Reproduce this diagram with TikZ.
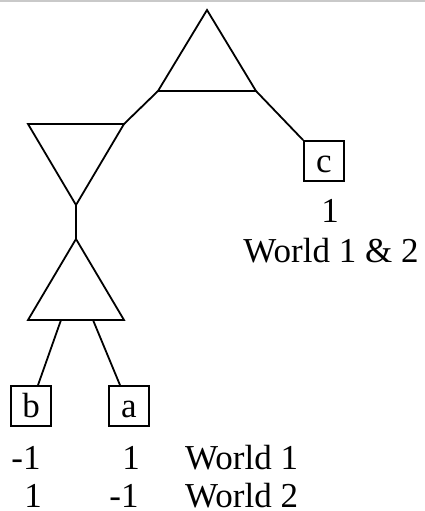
\documentclass[tikz,border=0pt]{standalone}
\usepackage{fontspec}
\setmainfont{Liberation Serif}
\usetikzlibrary{calc}
\begin{document}
\begin{tikzpicture}[x=1pt,y=-1pt,
  every node/.style={font=\fontsize{35}{40}\selectfont},
  edge/.style={line width=1.8pt,line join=miter},
  leafbox/.style={draw,line width=1.8pt,minimum width=40pt,minimum height=40pt,inner sep=0pt,text height=31pt,text depth=9pt},
  lbl/.style={inner sep=0pt}]
\useasboundingbox (0,0) rectangle (425,511);
\fill[black!21] (0,0) rectangle (425,2);
% top triangle
\coordinate (t1) at (207,10);
\coordinate (t1l) at (158,91);
\coordinate (t1r) at (256,91);
\draw[edge] (t1) -- (t1l) -- (t1r) -- cycle;
% inverted triangle
\coordinate (t2l) at (28,124);
\coordinate (t2r) at (124,124);
\coordinate (t2b) at (76,205);
\draw[edge] (t2l) -- (t2r) -- (t2b) -- cycle;
% lower triangle
\coordinate (t3) at (76,239);
\coordinate (t3l) at (28,320);
\coordinate (t3r) at (124,320);
\draw[edge] (t3) -- (t3l) -- (t3r) -- cycle;
% leaves
\node[leafbox] (c) at (324,161) {c};
\node[leafbox] (b) at (31,406) {b};
\node[leafbox] (a) at (129,406) {a};
% connectors
\coordinate (t3bl) at (61,320);
\coordinate (t3br) at (93,320);
\coordinate (bend) at ($(b.north)+(7,0)$);
\coordinate (aend) at ($(a.north)+(-9,0)$);
\draw[edge] (t1l) -- (t2r);
\draw[edge] (t1r) -- (c.north west);
\draw[edge] (t2b) -- (t3);
\draw[edge] (t3bl) -- (bend);
\draw[edge] (t3br) -- (aend);
% labels
\node[lbl,anchor=base] (cval) at (330,222) {1};
\node[lbl,anchor=base] (cw) at (331,262) {World 1 \& 2};
\node[lbl,anchor=base] (bv1) at (26,469) {-1};
\node[lbl,anchor=base] (av1) at (131,469) {1};
\node[lbl,anchor=base west] (w1) at (185,469) {World 1};
\node[lbl,anchor=base] (bv2) at (33,507) {1};
\node[lbl,anchor=base] (av2) at (124,507) {-1};
\node[lbl,anchor=base west] (w2) at (185,507) {World 2};
\end{tikzpicture}
\end{document}
